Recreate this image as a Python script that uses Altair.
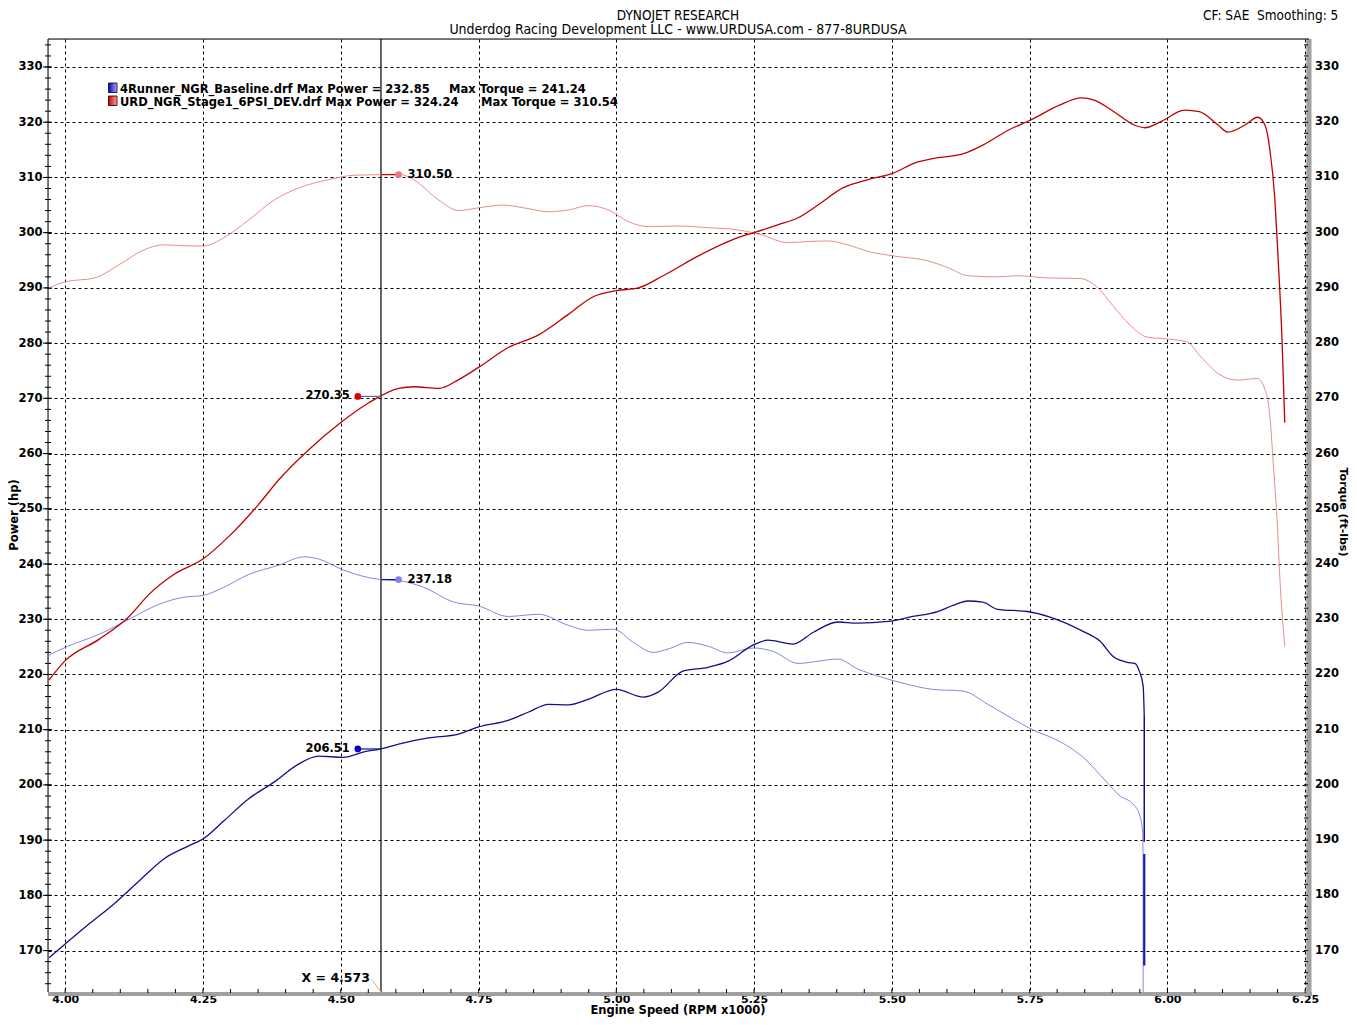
import altair as alt
import pandas as pd

FONT = "DejaVu Sans, Verdana, sans-serif"
HEAD_FONT = "DejaVu Sans Condensed, Liberation Sans Narrow, DejaVu Sans, sans-serif"

# ---------------- data ----------------
red_power_rpm = [3.9706, 4.000, 4.062, 4.116, 4.152, 4.197, 4.250, 4.297, 4.351, 4.388, 4.442, 4.496,
                 4.551, 4.605, 4.632, 4.678, 4.714, 4.750, 4.804, 4.859, 4.913, 4.958, 5.000, 5.040,
                 5.085, 5.149, 5.221, 5.250, 5.293, 5.330, 5.366, 5.411, 5.457, 5.500, 5.547, 5.574,
                 5.630, 5.666, 5.712, 5.752, 5.804, 5.844, 5.867, 5.903, 5.940, 5.959, 5.990, 6.031,
                 6.058, 6.092, 6.110, 6.141, 6.164, 6.177, 6.186, 6.195, 6.200, 6.208, 6.213]
red_power_hp = [219.0, 222.5, 226.4, 230.5, 234.5, 238.1, 240.9, 245.0, 250.8, 255.3, 260.7, 265.3,
                269.2, 271.8, 272.1, 271.8, 273.4, 275.6, 279.2, 281.5, 285.2, 288.4, 289.5, 290.0,
                292.2, 295.8, 299.1, 300.0, 301.4, 302.7, 305.0, 308.1, 309.6, 310.7, 312.8, 313.4,
                314.3, 315.9, 318.6, 320.4, 323.1, 324.4, 324.0, 321.9, 319.5, 319.0, 320.2, 322.2,
                321.9, 319.5, 318.2, 319.5, 320.9, 319.5, 315.0, 306.0, 297.0, 280.6, 265.6]

red_torque_rpm = [3.9706, 4.000, 4.053, 4.098, 4.143, 4.179, 4.225, 4.252, 4.288, 4.333, 4.379, 4.424,
                  4.478, 4.524, 4.571, 4.605, 4.632, 4.678, 4.714, 4.750, 4.795, 4.832, 4.877, 4.913,
                  4.949, 4.986, 5.022, 5.058, 5.112, 5.167, 5.221, 5.257, 5.312, 5.348, 5.384, 5.420,
                  5.457, 5.502, 5.565, 5.601, 5.638, 5.692, 5.728, 5.783, 5.841, 5.872, 5.901, 5.932,
                  5.963, 6.005, 6.036, 6.059, 6.095, 6.127, 6.163, 6.177, 6.186, 6.192, 6.199, 6.204,
                  6.213]
red_torque_ft = [290.0, 291.1, 291.8, 294.2, 296.9, 297.8, 297.6, 297.6, 299.1, 302.3, 305.9, 308.1,
                 309.6, 310.4, 310.5, 310.6, 309.6, 305.9, 304.0, 304.5, 305.0, 304.5, 303.8, 304.1,
                 304.9, 304.1, 302.0, 301.1, 301.2, 300.9, 300.5, 299.8, 298.2, 298.4, 298.5, 297.8,
                 296.6, 295.8, 294.9, 293.7, 292.2, 292.0, 292.2, 291.8, 291.7, 290.2, 286.8, 283.3,
                 281.1, 280.7, 280.2, 277.7, 274.3, 273.3, 273.6, 271.6, 266.7, 258.4, 248.0, 237.6,
                 225.1]

blue_power_rpm = [3.9706, 4.000, 4.043, 4.089, 4.134, 4.179, 4.225, 4.250, 4.288, 4.333, 4.379, 4.424,
                  4.460, 4.505, 4.542, 4.571, 4.605, 4.659, 4.714, 4.750, 4.804, 4.841, 4.877, 4.913,
                  4.949, 5.000, 5.049, 5.076, 5.121, 5.167, 5.203, 5.248, 5.275, 5.321, 5.357, 5.402,
                  5.438, 5.493, 5.538, 5.583, 5.611, 5.638, 5.665, 5.692, 5.746, 5.787, 5.847, 5.878,
                  5.901, 5.927, 5.941, 5.949, 5.956, 5.958]
blue_power_hp = [168.7, 171.2, 174.8, 178.5, 182.6, 186.6, 189.0, 190.2, 193.5, 197.5, 200.5, 203.8,
                 205.2, 205.0, 206.0, 206.5, 207.4, 208.5, 209.2, 210.5, 211.7, 213.2, 214.6, 214.5,
                 215.5, 217.3, 215.9, 216.8, 220.6, 221.3, 222.4, 225.3, 226.2, 225.5, 227.6, 229.5,
                 229.3, 229.6, 230.5, 231.4, 232.5, 233.3, 233.1, 231.8, 231.4, 230.4, 227.8, 226.0,
                 223.3, 222.2, 222.0, 220.6, 217.9, 212.5]
# vertical run-down at the end of the baseline pull (hp)
blue_power_tail_rpm = [5.958, 5.958]
blue_power_tail_hp = [212.5, 189.7]
blue_power_drop_rpm = [5.958, 5.958]
blue_power_drop_hp = [187.5, 167.3]

blue_torque_rpm = [3.9706, 4.000, 4.062, 4.116, 4.170, 4.216, 4.250, 4.288, 4.333, 4.388, 4.433, 4.460,
                   4.505, 4.571, 4.605, 4.650, 4.705, 4.750, 4.804, 4.859, 4.913, 4.949, 4.995, 5.031,
                   5.067, 5.094, 5.130, 5.167, 5.203, 5.248, 5.284, 5.330, 5.366, 5.402, 5.438, 5.475,
                   5.529, 5.574, 5.629, 5.674, 5.710, 5.764, 5.787, 5.847, 5.890, 5.914, 5.938, 5.950,
                   5.955, 5.956]
blue_torque_ft = [223.5, 224.9, 227.3, 230.0, 232.7, 234.0, 234.3, 235.8, 238.1, 239.8, 241.3, 240.9,
                  238.9, 237.2, 237.0, 235.8, 233.1, 232.4, 230.5, 230.9, 228.9, 228.0, 228.2, 225.8,
                  224.0, 224.6, 225.8, 225.1, 223.9, 224.8, 224.2, 222.0, 222.4, 222.8, 221.0, 219.7,
                  218.2, 217.3, 217.0, 214.6, 212.5, 209.6, 208.7, 205.0, 200.5, 198.0, 196.5, 194.4,
                  191.5, 186.0]
blue_torque_tail_rpm = [5.956, 5.956]
blue_torque_tail_ft = [186.0, 162.5]

cursor_rpm = 4.573
marker_rpm = [4.531, 4.531, 4.605, 4.605]
marker_val = [270.35, 206.51, 310.50, 237.18]
marker_txt = ["270.35", "206.51", "310.50", "237.18"]
marker_col = ["#e00000", "#0000d0", "#f07878", "#8080f0"]
connector_col = ["#6060a0", "#10108c", "#c00000", "#10108c"]

x_tick_values = [4.00, 4.25, 4.50, 4.75, 5.00, 5.25, 5.50, 5.75, 6.00, 6.25]
y_tick_values = [170, 180, 190, 200, 210, 220, 230, 240, 250, 260, 270, 280, 290, 300, 310, 320, 330]
y_tick_labels = [str(v) for v in y_tick_values]
x_minor = [round(4.00 + 0.05 * k, 2) for k in range(0, 46)]
y_minor = list(range(164, 336, 2))

legend_lines = ["4Runner_NGR_Baseline.drf Max Power = 232.85",
                "URD_NGR_Stage1_6PSI_DEV.drf Max Power = 324.24"]
legend_torque = ["Max Torque = 241.24", "Max Torque = 310.54"]

# ---------------- geometry ----------------
W, H = 1258, 953
X_DOMAIN = [3.9688, 6.2515]
Y_DOMAIN = [162.5, 335.07]

xs = alt.Scale(domain=X_DOMAIN, nice=False, zero=False)
ys = alt.Scale(domain=Y_DOMAIN, nice=False, zero=False)

xaxis = alt.Axis(values=x_tick_values, format=".2f", grid=True, gridDash=[3, 3], gridColor="black",
                 gridWidth=1, gridOpacity=1, ticks=False, tickSize=0, domain=False,
                 labelFont=FONT, labelFontSize=11, labelFontWeight="bold", labelColor="black",
                 labelPadding=1, labelFlush=False, labelOverlap=False, labelBound=False, title=None)
yaxis = alt.Axis(values=y_tick_values, format="d", grid=True, gridDash=[3, 3], gridColor="black",
                 gridWidth=1, gridOpacity=1, ticks=False, tickSize=0, domain=False,
                 labelFont=FONT, labelFontSize=11.5, labelFontWeight="bold", labelColor="black",
                 labelPadding=6, labelFlush=False, labelOverlap=False, labelBound=False, title=None)


def X(field="rpm"):
    return alt.X(f"{field}:Q", scale=xs, axis=xaxis)


def Y(field="val"):
    return alt.Y(f"{field}:Q", scale=ys, axis=yaxis)


ONE = pd.DataFrame({"d": [0]})


def series(rpm, val, color, width, interp="monotone"):
    df = pd.DataFrame({"rpm": rpm, "val": val, "i": list(range(len(rpm)))})
    return alt.Chart(df).mark_line(color=color, strokeWidth=width, clip=True, interpolate=interp).encode(
        x=X(), y=Y(), order=alt.Order("i:Q"))


def ptext(text, x, y, align="left", size=11, weight="bold", font=FONT, angle=0, color="black"):
    kw = dict(text=text, align=align, baseline="middle", fontSize=size, fontWeight=weight,
              font=font, color=color)
    if angle:
        kw["angle"] = angle
    return alt.Chart(ONE).mark_text(**kw).encode(x=alt.value(x), y=alt.value(y))


def prule(x, x2, y, y2, color, w):
    return alt.Chart(ONE).mark_rule(color=color, strokeWidth=w).encode(
        x=alt.value(x), x2=alt.value(x2), y=alt.value(y), y2=alt.value(y2))


layers = []

# frame: gray bars bottom/right, black left/top
layers.append(prule(0, W + 6, H + 2, H + 2, "#a0a0a0", 4))
layers.append(prule(W + 3, W + 3, 0, H + 4, "#a0a0a0", 5))
layers.append(prule(0, 0, 0, H, "black", 1))
layers.append(prule(0, W + 3, 0, 0, "black", 1))

# ticks
layers.append(alt.Chart(pd.DataFrame({"val": y_minor})).mark_rule(color="black").encode(
    y=Y(), x=alt.value(-3), x2=alt.value(3)))
layers.append(alt.Chart(pd.DataFrame({"val": y_tick_values})).mark_rule(color="black").encode(
    y=Y(), x=alt.value(-5), x2=alt.value(4)))
layers.append(alt.Chart(pd.DataFrame({"val": y_minor})).mark_rule(color="black").encode(
    y=Y(), x=alt.value(W - 2), x2=alt.value(W + 2)))
layers.append(alt.Chart(pd.DataFrame({"rpm": x_minor})).mark_rule(color="black").encode(
    x=X(), y=alt.value(H - 3), y2=alt.value(H + 1)))

# right axis labels
layers.append(alt.Chart(pd.DataFrame({"val": y_tick_values, "label": y_tick_labels})).mark_text(
    align="left", baseline="middle", font=FONT, fontSize=11.5, fontWeight="bold", color="black").encode(
    y=Y(), x=alt.value(W + 9), text="label:N"))

# cursor line
layers.append(alt.Chart(pd.DataFrame({"rpm": [cursor_rpm]})).mark_rule(color="black", strokeWidth=1.2).encode(x=X()))

# curves
layers.append(series(red_torque_rpm, red_torque_ft, "#f08a8a", 1.0))
layers.append(series(blue_torque_rpm, blue_torque_ft, "#8585e2", 1.0))
layers.append(series(blue_torque_tail_rpm, blue_torque_tail_ft, "#8585e2", 1.0, "linear"))
layers.append(series(red_power_rpm, red_power_hp, "#c00000", 1.3))
layers.append(series(blue_power_rpm, blue_power_hp, "#10108c", 1.3))
layers.append(series(blue_power_tail_rpm, blue_power_tail_hp, "#10108c", 1.5, "linear"))
layers.append(series(blue_power_drop_rpm, blue_power_drop_hp, "#1a1aa8", 2.2, "linear"))

# markers
mk = pd.DataFrame({"rpm": marker_rpm, "rpm2": [cursor_rpm] * 4, "val": marker_val,
                   "label": marker_txt, "c": marker_col, "cc": connector_col,
                   "kind": ["p", "p", "t", "t"]})
layers.append(alt.Chart(mk).mark_rule(strokeWidth=1.2).encode(
    x=X(), x2=alt.X2("rpm2:Q"), y=Y(), color=alt.Color("cc:N", scale=None)))
layers.append(alt.Chart(mk).mark_circle(size=45, opacity=1).encode(
    x=X(), y=Y(), color=alt.Color("c:N", scale=None)))
layers.append(alt.Chart(mk).transform_filter("datum.kind == 'p'").mark_text(
    align="right", baseline="middle", dx=-8, font=FONT, fontSize=11.5, fontWeight="bold", color="black").encode(
    x=X(), y=Y(), text="label:N"))
layers.append(alt.Chart(mk).transform_filter("datum.kind == 't'").mark_text(
    align="left", baseline="middle", dx=9, font=FONT, fontSize=11.5, fontWeight="bold", color="black").encode(
    x=X(), y=Y(), text="label:N"))

# X = 4.573 annotation
layers.append(alt.Chart(pd.DataFrame({"rpm": [4.556], "val": [164.8], "rpm2": [cursor_rpm], "val2": [162.5]})).mark_rule(
    color="#e0a0a0", strokeWidth=1).encode(x=X(), y=Y(), x2=alt.X2("rpm2:Q"), y2=alt.Y2("val2:Q")))
layers.append(alt.Chart(pd.DataFrame({"rpm": [4.553], "val": [165.0], "label": ["X = 4.573"]})).mark_text(
    align="right", baseline="middle", font=FONT, fontSize=12.5, fontWeight="bold", color="black").encode(
    x=X(), y=Y(), text="label:N"))

# legend
blue_grad = alt.Gradient(gradient="linear", x1=0, x2=1, y1=0, y2=0,
                         stops=[alt.GradientStop(color="#0000c0", offset=0),
                                alt.GradientStop(color="#a8a8ff", offset=1)])
red_grad = alt.Gradient(gradient="linear", x1=0, x2=1, y1=0, y2=0,
                        stops=[alt.GradientStop(color="#d00000", offset=0),
                               alt.GradientStop(color="#ffa0a0", offset=1)])
layers.append(alt.Chart(ONE).mark_rect(fill=blue_grad, stroke="black", strokeWidth=0.8).encode(
    x=alt.value(60.5), x2=alt.value(69), y=alt.value(44), y2=alt.value(53.5)))
layers.append(alt.Chart(ONE).mark_rect(fill=red_grad, stroke="black", strokeWidth=0.8).encode(
    x=alt.value(60.5), x2=alt.value(69), y=alt.value(57), y2=alt.value(66.5)))
layers.append(ptext(legend_lines[0], 72, 51, size=11.5))
layers.append(ptext(legend_lines[1], 72, 64, size=11.5))
layers.append(ptext(legend_torque[0], 401, 51, size=11.5))
layers.append(ptext(legend_torque[1], 433, 64, size=11.5))

# titles
layers.append(ptext("DYNOJET RESEARCH", 630, -23, align="center", size=13.5, weight="normal", font=HEAD_FONT))
layers.append(ptext("Underdog Racing Development LLC - www.URDUSA.com - 877-8URDUSA", 630, -9.5,
                    align="center", size=14, weight="normal", font=HEAD_FONT))
layers.append(ptext("CF: SAE\u00a0 Smoothing: 5", 1155, -23, align="left", size=13.5, weight="normal", font=HEAD_FONT))
layers.append(ptext("Engine Speed (RPM x1000)", 630, 972, align="center", size=11.5))
layers.append(ptext("Power (hp)", -33, 476, align="center", size=11.5, angle=270))
layers.append(ptext("Torque (ft-lbs)", W + 37, 473, align="center", size=11, angle=90))

chart = alt.layer(*layers).properties(
    width=W, height=H,
    padding={"left": 40, "top": 31, "right": 43, "bottom": 25},
    autosize=alt.AutoSizeParams(type="none"),
).configure_view(stroke=None).configure(background="white")

chart.save("out.html", embed_options={"renderer": "svg", "actions": False})
